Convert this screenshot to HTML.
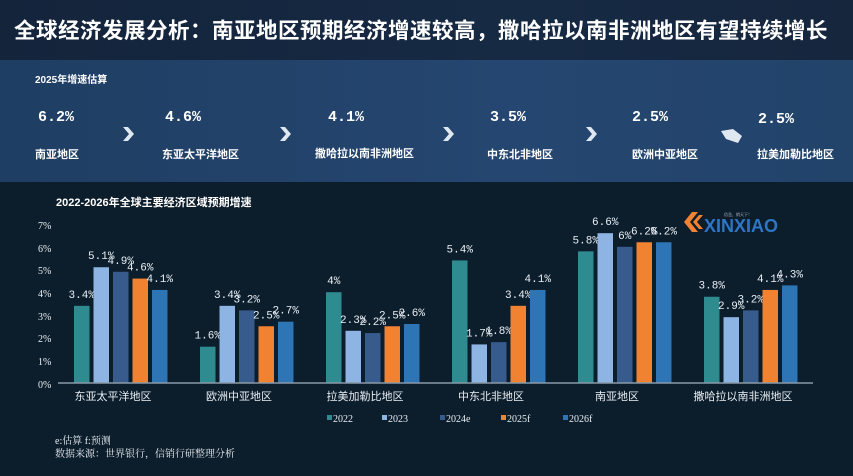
<!DOCTYPE html>
<html><head><meta charset="utf-8"><style>
body{margin:0;width:853px;height:476px;overflow:hidden;background:#0c1d2b;font-family:"Liberation Serif","Noto Serif CJK SC","Noto Sans CJK SC",serif;color:#fff;position:relative}
.a{position:absolute;white-space:nowrap}
.top{position:absolute;left:0;top:0;width:853px;height:60px;background:linear-gradient(90deg,#13243b,#172a44 60%,#15263d)}
.mid{position:absolute;left:0;top:60px;width:853px;height:122px;background:linear-gradient(90deg,#1f3e63,#254670 60%,#22436a)}
.t{font-family:"Liberation Sans","Noto Sans CJK SC",sans-serif;font-weight:bold}
.v{font-size:15px;font-family:"Liberation Mono","Noto Sans CJK SC",monospace;font-weight:bold}
.n{font-size:11px;font-weight:bold;font-family:"Liberation Sans","Noto Sans CJK SC",sans-serif}
</style></head><body>
<div class="top"></div><div class="mid"></div>
<div class="a t" style="left:14px;top:14px;font-size:21.5px;letter-spacing:0.5px">全球经济发展分析：南亚地区预期经济增速较高，撒哈拉以南非洲地区有望持续增长</div>
<div class="a t" style="left:35px;top:71px;font-size:10px">2025年增速估算</div>
<div class="a v" style="left:38px;top:109px">6.2%</div>
<div class="a v" style="left:165px;top:109px">4.6%</div>
<div class="a v" style="left:328px;top:109px">4.1%</div>
<div class="a v" style="left:490px;top:109px">3.5%</div>
<div class="a v" style="left:632px;top:109px">2.5%</div>
<div class="a v" style="left:758px;top:111px">2.5%</div>
<div class="a n" style="left:35px;top:146px">南亚地区</div>
<div class="a n" style="left:162px;top:146px">东亚太平洋地区</div>
<div class="a n" style="left:315px;top:145px">撒哈拉以南非洲地区</div>
<div class="a n" style="left:487px;top:146px">中东北非地区</div>
<div class="a n" style="left:632px;top:146px">欧洲中亚地区</div>
<div class="a n" style="left:757px;top:146px">拉美加勒比地区</div>
<svg class="a" style="left:0;top:0" width="853" height="200">
<g fill="#dfe7f0">
<path d="M123 127 L128 127 L134 134 L128 141 L123 141 L129 134Z"/>
<path d="M280 127 L285 127 L291 134 L285 141 L280 141 L286 134Z"/>
<path d="M443 127 L448 127 L454 134 L448 141 L443 141 L449 134Z"/>
<path d="M586 127 L591 127 L597 134 L591 141 L586 141 L592 134Z"/>
<path d="M721 131 L733 129 L742 136 L738 143 L726 139Z"/>
</g>
</svg>
<div class="a t" style="left:56px;top:194px;font-size:11px">2022-2026年全球主要经济区域预期增速</div>
<svg class="a" style="left:0;top:0" width="853" height="476">
<g font-size="10" fill="#e8eef4" font-family="Liberation Serif,serif">
<text x="38" y="229">7%</text><text x="38" y="252">6%</text><text x="38" y="274">5%</text><text x="38" y="297">4%</text><text x="38" y="320">3%</text><text x="38" y="342">2%</text><text x="38" y="365">1%</text><text x="38" y="388">0%</text>
</g>
<g id="bars"></g>
<line x1="58" y1="383" x2="813" y2="383" stroke="#8a9aa8" stroke-width="1.5"/>
<g font-size="11" fill="#e8eef4" text-anchor="middle" font-family="Liberation Sans,Noto Sans CJK SC,sans-serif">
<text x="113" y="400">东亚太平洋地区</text><text x="239" y="400">欧洲中亚地区</text><text x="365" y="400">拉美加勒比地区</text><text x="491" y="400">中东北非地区</text><text x="617" y="400">南亚地区</text><text x="743" y="400">撒哈拉以南非洲地区</text>
</g>
<g font-size="10" fill="#e8eef4" font-family="Liberation Serif,serif">
<rect x="327" y="415" width="5" height="5" fill="#2e8b8f"/><text x="333" y="422">2022</text>
<rect x="382" y="415" width="5" height="5" fill="#8db4e2"/><text x="388" y="422">2023</text>
<rect x="440" y="415" width="5" height="5" fill="#375b8c"/><text x="446" y="422">2024e</text>
<rect x="501" y="415" width="5" height="5" fill="#f08232"/><text x="507" y="422">2025f</text>
<rect x="563" y="415" width="5" height="5" fill="#2e75b6"/><text x="569" y="422">2026f</text>
</g>
<g font-size="10" fill="#e8eef4" font-family="Liberation Serif,Noto Serif CJK SC,serif">
<text x="55" y="444">e:估算 f:预测</text><text x="55" y="457">数据来源：世界银行，信销行研整理分析</text>
</g>
<g transform="translate(684,212)">
<path d="M0 10 L8 0 L14 0 L6 10 L14 20 L8 20Z" fill="#f08232"/><path d="M9 10 L15 3 L19 3 L13 10 L19 17 L15 17Z" fill="#f08232"/>
<text x="20" y="20" font-size="18" font-family="Liberation Sans,sans-serif" fill="#2e75c6" font-weight="bold">XINXIAO</text>
<text x="40" y="4" font-size="4" fill="#cfd8e0">信息，销天下！</text>
</g>
</svg>
<script>
var d=[[3.4,5.1,4.9,4.6,4.1],[1.6,3.4,3.2,2.5,2.7],[4,2.3,2.2,2.5,2.6],[5.4,1.7,1.8,3.4,4.1],[5.8,6.6,6,6.2,6.2],[3.8,2.9,3.2,4.1,4.3]];
var c=["#2e8b8f","#8db4e2","#375b8c","#f08232","#2e75b6"],s="";
d.forEach(function(g,i){g.forEach(function(v,j){var x=74+i*126+j*19.5,h=v*22.7,y=383-h;
s+='<rect x="'+x+'" y="'+y+'" width="15.5" height="'+h+'" fill="'+c[j]+'"/>';
s+='<text x="'+(x+7.75)+'" y="'+(y-8)+'" font-size="11" fill="#e8eef4" text-anchor="middle" font-family="Liberation Mono,monospace">'+v+'%</text>';});});
document.getElementById("bars").innerHTML=s;
</script>
</body></html>
